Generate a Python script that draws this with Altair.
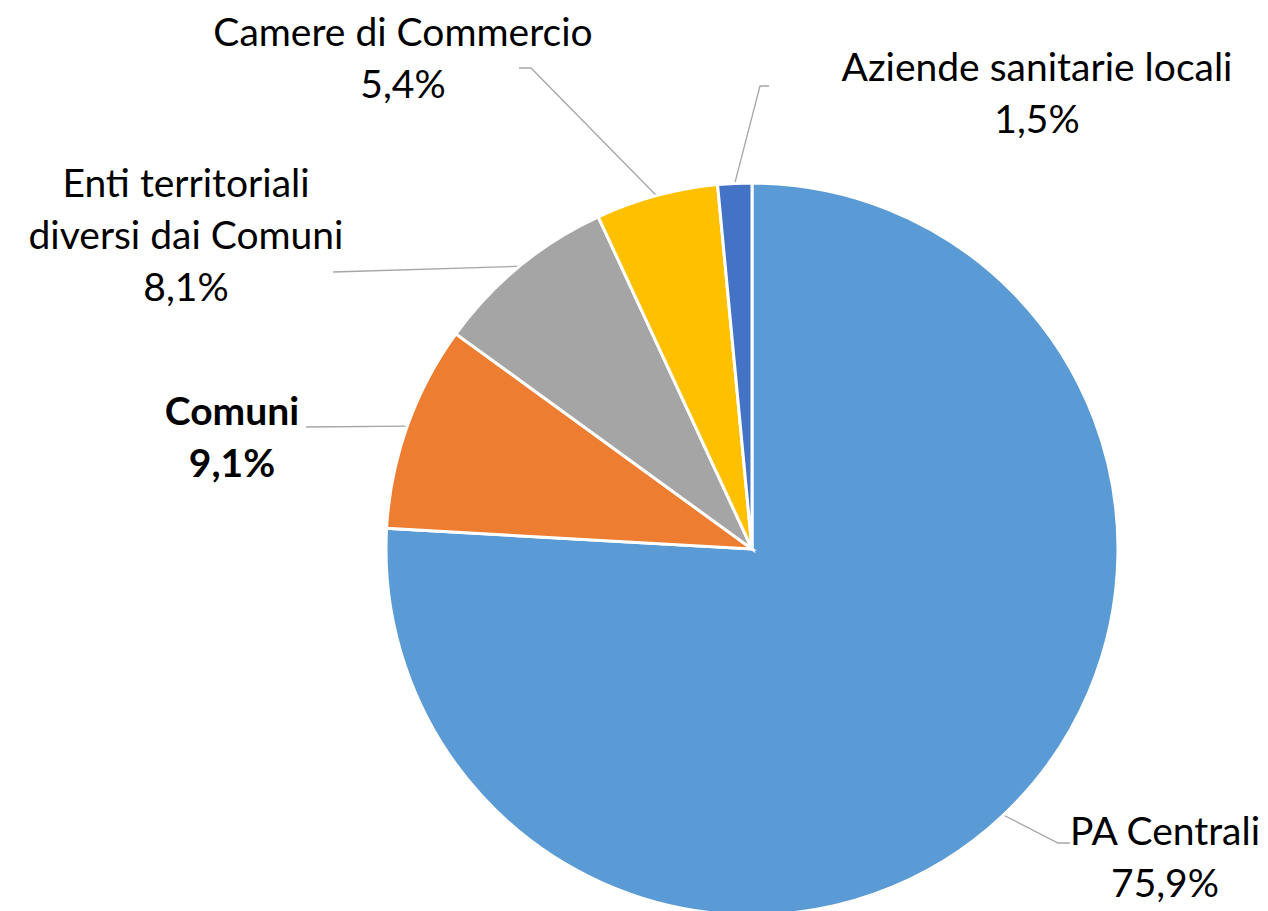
import math
import altair as alt
import pandas as pd

# ---- data ----
categories = ["PA Centrali", "Comuni", "Enti territoriali diversi dai Comuni",
              "Camere di Commercio", "Aziende sanitarie locali"]
values = [75.9, 9.1, 8.1, 5.4, 1.5]
label_lines = [["PA Centrali", "75,9%"],
               ["Comuni", "9,1%"],
               ["Enti territoriali", "diversi dai Comuni", "8,1%"],
               ["Camere di Commercio", "5,4%"],
               ["Aziende sanitarie locali", "1,5%"]]
colors = ["#5B9BD5", "#ED7D31", "#A5A5A5", "#FFC000", "#4472C4"]
bold = [False, True, False, False, False]

# ---- layout (plot pixel coords) ----
W, H = 1252, 903
CX, CY, R = 744, 541, 366
label_center = [(1157, 825), (224, 405), (178, 177), (395, 26), (1029, 61)]
LINE_H = 52
leader_elbows = [[(1050, 835), (1062, 835)],
                 [(298, 419)],
                 [(325, 264)],
                 [(523, 60), (511, 60)],
                 [(752, 78), (761, 78)]]

pie_df = pd.DataFrame({"cat": categories, "val": values, "ord": range(len(values))})

# text rows
trows = []
for i, lines in enumerate(label_lines):
    cx, cy = label_center[i]
    for j, t in enumerate(lines):
        trows.append({"t": t, "x": cx, "y": cy + j * LINE_H,
                      "w": "bold" if bold[i] else "normal", "cat": categories[i]})
text_df = pd.DataFrame(trows)

# leader lines: start on pie edge at slice mid angle
lrows = []
total = sum(values)
cum = 0
for i, v in enumerate(values):
    mid = (cum + v / 2) / total * 2 * math.pi
    cum += v
    sx = CX + R * math.sin(mid)
    sy = CY - R * math.cos(mid)
    pts = [(sx, sy)] + leader_elbows[i]
    for k, (px, py) in enumerate(pts):
        lrows.append({"cat": categories[i], "k": k, "x": px, "y": py})
lead_df = pd.DataFrame(lrows)

xs = alt.Scale(domain=[0, W], range=[0, W], nice=False, zero=False)
ys = alt.Scale(domain=[0, H], range=[0, H], nice=False, zero=False)

pie = alt.Chart(pie_df).mark_arc(outerRadius=R, stroke="white", strokeWidth=3).encode(
    theta=alt.Theta("val:Q", stack=True),
    order=alt.Order("ord:Q"),
    color=alt.Color("cat:N", scale=alt.Scale(domain=categories, range=colors), legend=None),
    x=alt.value(CX), y=alt.value(CY),
)

leaders = alt.Chart(lead_df).mark_line(color="#A6A6A6", strokeWidth=1.3).encode(
    x=alt.X("x:Q", scale=xs, axis=None),
    y=alt.Y("y:Q", scale=ys, axis=None),
    detail="cat:N",
    order="k:Q",
)

def text_layer(weight):
    return alt.Chart(text_df[text_df.w == weight]).mark_text(
        font="Lato", fontSize=39, fontWeight=weight, color="#000000",
        align="center", baseline="middle",
    ).encode(
        x=alt.X("x:Q", scale=xs, axis=None),
        y=alt.Y("y:Q", scale=ys, axis=None),
        text="t:N",
    )

chart = alt.layer(leaders, pie, text_layer("normal"), text_layer("bold")).properties(
    width=W, height=H, padding=0, autosize=alt.AutoSizeParams(type="none"),
).configure_view(stroke=None)

chart.save("out.html", embed_options={"renderer": "svg", "actions": False})
